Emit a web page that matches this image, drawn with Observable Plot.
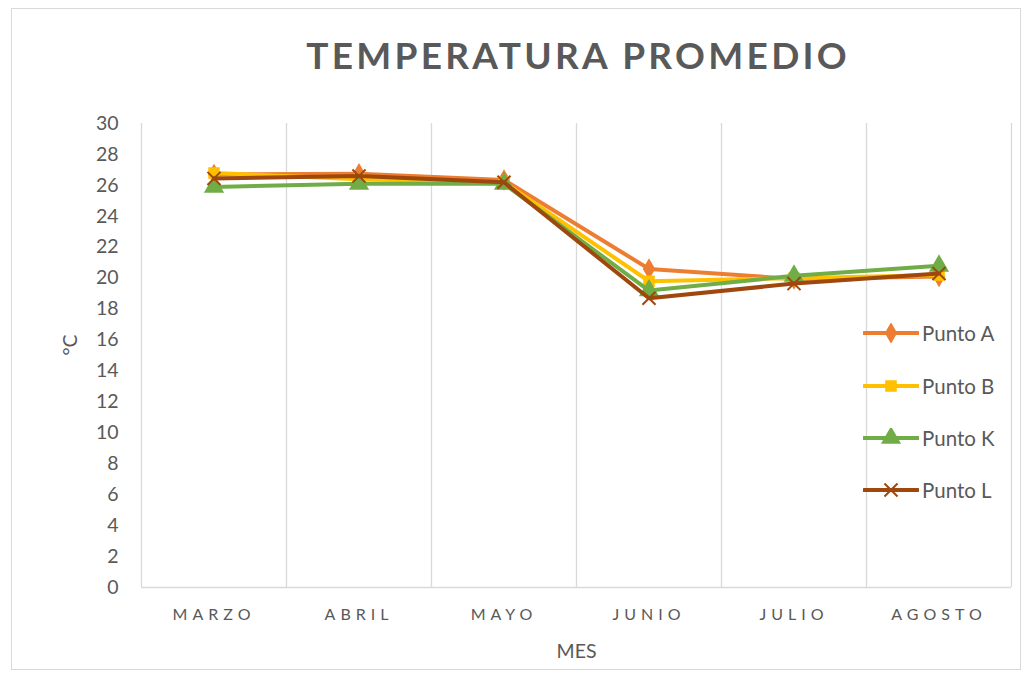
<!DOCTYPE html>
<html>
<head>
<meta charset="utf-8">
<script src="https://cdn.jsdelivr.net/npm/d3@7"></script>
<script src="https://cdn.jsdelivr.net/npm/@observablehq/plot@0.6"></script>
<style>
  html, body { margin: 0; padding: 0; background: #fff; }
  #wrap { position: relative; width: 1030px; height: 675px; font-family: Lato, "Open Sans", sans-serif; }
  #border { position: absolute; left: 11px; top: 8px; width: 1010px; height: 662px; border: 1px solid #d9d9d9; box-sizing: border-box; pointer-events: none; }
  #legend { position: absolute; left: 863px; top: 307px; }
  .item { display: flex; align-items: center; height: 52.4px; margin: 0; }
  .item span { font-size: 20.5px; color: #595959; margin-left: 3px; }
</style>
</head>
<body>
<div id="wrap">
  <div id="border"></div>
  <div id="chart"></div>
  <div id="legend"></div>
</div>
<script>
const months = ["MARZO", "ABRIL", "MAYO", "JUNIO", "JULIO", "AGOSTO"];
const seriesNames = ["Punto A", "Punto B", "Punto K", "Punto L"];
const puntoA = [26.7, 26.75, 26.35, 20.6, 19.95, 20.1];
const puntoB = [26.8, 26.4, 26.2, 19.8, 20.0, 20.2];
const puntoK = [25.9, 26.1, 26.1, 19.2, 20.15, 20.8];
const puntoL = [26.45, 26.6, 26.2, 18.7, 19.65, 20.3];
const yTicks = [0, 2, 4, 6, 8, 10, 12, 14, 16, 18, 20, 22, 24, 26, 28, 30];
const titleText = "TEMPERATURA PROMEDIO";

const seriesValues = [puntoA, puntoB, puntoK, puntoL];
const colors = ["#ED7D31", "#FFC000", "#70AD47", "#9E480E"];
const symbols = ["diamond", "square", "triangle", "times"];
const symbolR = [6.5, 6.5, 7.5, 6];

const rows = seriesNames.flatMap((s, k) =>
  seriesValues[k].map((v, i) => ({ serie: s, i, v })));

const textColor = "#595959";
const grid = "#d9d9d9";

const marks = [
  Plot.ruleX(d3.range(months.length + 1).map(i => i - 0.5), { stroke: grid, strokeWidth: 1.3 }),
  Plot.ruleY([0], { stroke: grid, strokeWidth: 1.3 }),
  Plot.axisY({ ticks: yTicks, tickSize: 0, tickPadding: 23, fontSize: 19.5, color: textColor, label: null, tickFormat: d => String(d) }),
  Plot.axisX({ ticks: d3.range(months.length), tickFormat: i => months[i], tickSize: 0, tickPadding: 21, fontSize: 16, color: textColor, label: null }),
  Plot.text([titleText], { text: d => d, frameAnchor: "top", lineAnchor: "middle", dy: -66, fontSize: 37, fontWeight: "bold", fill: textColor }),
  Plot.text(["MES"], { text: d => d, frameAnchor: "bottom", lineAnchor: "middle", dy: 64, fontSize: 19.5, fill: textColor }),
  Plot.text(["°C"], { text: d => d, frameAnchor: "left", lineAnchor: "middle", dx: -71, rotate: -90, fontSize: 19.5, fill: textColor })
];

seriesNames.forEach((s, k) => {
  const data = rows.filter(d => d.serie === s);
  marks.push(Plot.line(data, { x: "i", y: "v", stroke: colors[k], strokeWidth: 4 }));
  if (symbols[k] === "times") {
    marks.push(Plot.dot(data, { x: "i", y: "v", symbol: "times", r: symbolR[k], stroke: colors[k], strokeWidth: 2 }));
  } else {
    marks.push(Plot.dot(data, { x: "i", y: "v", symbol: symbols[k], r: symbolR[k], fill: colors[k], stroke: "none" }));
  }
});

const chart = Plot.plot({
  width: 1030,
  height: 675,
  marginLeft: 141,
  marginRight: 19,
  marginTop: 123,
  marginBottom: 88,
  style: { fontFamily: "Lato, 'Open Sans', sans-serif", background: "transparent" },
  x: { type: "linear", domain: [-0.5, months.length - 0.5] },
  y: { domain: [0, 30] },
  marks
});

d3.select(chart).selectAll('g[aria-label="x-axis tick label"] text').attr("letter-spacing", "5px");
d3.select(chart).selectAll("text").filter(function () { return this.textContent === titleText; })
  .attr("letter-spacing", "3.3px").attr("dx", "1.6px");
document.getElementById("chart").appendChild(chart);

// legend
const legend = d3.select("#legend");
seriesNames.forEach((s, k) => {
  const item = legend.append("div").attr("class", "item");
  const svg = item.append("svg").attr("width", 56).attr("height", 20);
  svg.append("line").attr("x1", 1).attr("x2", 55).attr("y1", 10).attr("y2", 10)
    .attr("stroke", colors[k]).attr("stroke-width", 4).attr("stroke-linecap", "round");
  const sym = { diamond: d3.symbolDiamond, square: d3.symbolSquare, triangle: d3.symbolTriangle, times: d3.symbolTimes }[symbols[k]];
  const path = svg.append("path").attr("transform", "translate(28,10)")
    .attr("d", d3.symbol(sym, Math.PI * symbolR[k] * symbolR[k])());
  if (symbols[k] === "times") path.attr("fill", "none").attr("stroke", colors[k]).attr("stroke-width", 2);
  else path.attr("fill", colors[k]);
  item.append("span").text(s);
});
</script>
</body>
</html>
